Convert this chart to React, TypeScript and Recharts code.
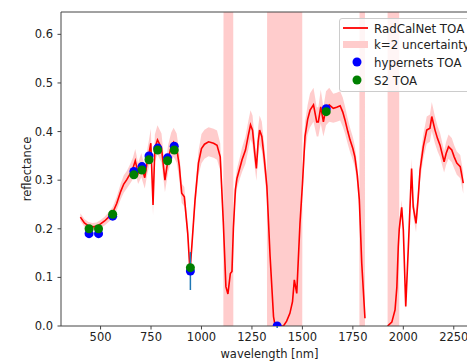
import React from 'react';
import { ComposedChart, Line, Area, Scatter, ErrorBar, XAxis, YAxis, Legend, ReferenceLine } from 'recharts';

// RadCalNet spectrum (wavelength in nm, TOA reflectance, k=2 absolute uncertainty)
// null = no data (gap between the water bands)
const wavelengths = [
  400, 420, 440, 460, 480, 500, 520, 540, 560, 580, 600, 615, 630, 645, 660, 672, 686, 702, 719, 730,
  740, 749, 760, 769, 782, 802, 819, 835, 850, 862, 877, 890, 902, 915, 932, 943, 952, 968, 985, 1000,
  1015, 1035, 1060, 1077, 1093, 1108, 1121, 1131, 1143, 1151, 1158, 1168, 1176, 1190, 1201, 1218, 1232, 1243, 1253, 1264,
  1272, 1281, 1288, 1299, 1311, 1324, 1340, 1357, 1365, 1388, 1406, 1422, 1438, 1451, 1460, 1472, 1488, 1500, 1513, 1526,
  1538, 1555, 1571, 1579, 1591, 1604, 1617, 1633, 1653, 1670, 1687, 1700, 1711, 1725, 1736, 1750, 1760, 1772, 1782, 1794,
  1810, 1860, 1922, 1943, 1959, 1968, 1975, 1980, 1992, 2000, 2012, 2025, 2041, 2049, 2063, 2074, 2083, 2099, 2116, 2132,
  2141, 2157, 2170, 2182, 2192, 2202, 2212, 2224, 2240, 2252, 2265, 2282, 2297,
];
const toa = [
  0.224, 0.212, 0.206, 0.204, 0.205, 0.21, 0.216, 0.224, 0.233, 0.252, 0.277, 0.292, 0.301, 0.312, 0.324, 0.34, 0.314, 0.331, 0.305, 0.335,
  0.355, 0.376, 0.249, 0.366, 0.383, 0.366, 0.3, 0.345, 0.368, 0.378, 0.366, 0.33, 0.273, 0.266, 0.19, 0.112, 0.163, 0.259, 0.335, 0.365,
  0.374, 0.379, 0.376, 0.372, 0.348, 0.215, 0.081, 0.066, 0.108, 0.112, 0.2, 0.28, 0.304, 0.325, 0.342, 0.362, 0.392, 0.414, 0.403, 0.355,
  0.324, 0.38, 0.403, 0.39, 0.345, 0.287, 0.143, 0.019, 0.0, 0.0, 0.0, 0.01, 0.026, 0.05, 0.095, 0.067, 0.211, 0.29, 0.39, 0.425,
  0.444, 0.455, 0.42, 0.42, 0.451, 0.42, 0.448, 0.455, 0.448, 0.45, 0.453, 0.44, 0.424, 0.4, 0.383, 0.365, 0.348, 0.31, 0.26, 0.129,
  0.016, null, 0.0, 0.008, 0.033, 0.08, 0.163, 0.2, 0.244, 0.198, 0.04, 0.163, 0.324, 0.245, 0.211, 0.266, 0.321, 0.369, 0.403, 0.407,
  0.431, 0.403, 0.385, 0.372, 0.355, 0.338, 0.355, 0.369, 0.362, 0.348, 0.335, 0.328, 0.294,
];
const unc = [
  0.008, 0.008, 0.008, 0.008, 0.008, 0.008, 0.009, 0.01, 0.012, 0.014, 0.016, 0.018, 0.018, 0.02, 0.022, 0.024, 0.022, 0.025, 0.022, 0.026,
  0.028, 0.03, 0.022, 0.028, 0.03, 0.03, 0.025, 0.028, 0.03, 0.03, 0.03, 0.028, 0.02, 0.02, 0.015, 0.01, 0.012, 0.02, 0.025, 0.03,
  0.03, 0.03, 0.03, 0.03, 0.028, 0.02, 5, 5, 5, 5, 0.02, 0.02, 0.02, 0.022, 0.025, 0.028, 0.03, 0.03, 0.03, 0.028,
  0.025, 0.03, 0.03, 0.03, 0.028, 0.025, 5, 5, 5, 5, 5, 5, 5, 5, 5, 5, 5, 0.025, 0.03, 0.03,
  0.035, 0.035, 0.03, 0.03, 0.035, 0.03, 0.035, 0.035, 0.03, 0.03, 0.03, 0.03, 0.028, 0.026, 0.025, 0.024, 0.022, 0.02, 0.02, 5,
  5, null, 5, 5, 5, 5, 5, 0.015, 0.015, 0.012, 0.008, 0.012, 0.02, 0.018, 0.018, 0.02, 0.022, 0.025, 0.028, 0.028,
  0.03, 0.028, 0.026, 0.025, 0.024, 0.022, 0.024, 0.025, 0.025, 0.024, 0.024, 0.024, 0.022,
];

// hypernets TOA
const hyperWl = [443, 490, 560, 665, 705, 740, 783, 832, 865, 945, 1375, 1618];
const hyperToa = [0.19, 0.19, 0.226, 0.318, 0.328, 0.35, 0.366, 0.346, 0.37, 0.113, 0.0, 0.447];
const hyperErr = [0.004, 0.004, 0.004, 0.005, 0.005, 0.005, 0.005, 0.005, 0.005, 0.039, 0.004, 0.006];

// Sentinel-2 TOA
const s2Wl = [443, 490, 560, 665, 705, 740, 783, 832, 865, 945, 1618];
const s2Toa = [0.2, 0.2, 0.23, 0.311, 0.321, 0.342, 0.362, 0.34, 0.362, 0.12, 0.441];

const xTicks = [500, 750, 1000, 1250, 1500, 1750, 2000, 2250];
const yTicks = [0, 0.1, 0.2, 0.3, 0.4, 0.5, 0.6];
const legendLabels = ['RadCalNet TOA', 'k=2 uncertainty', 'hypernets TOA', 'S2 TOA'];

const FONT = '"DejaVu Sans", sans-serif';
const INK = '#222';
const SPINE = '#444';
const Y_MAX = 0.646;

const spectrum = wavelengths.map((wl, i) => ({
  wl,
  toa: toa[i],
  band: toa[i] == null || unc[i] == null ? null : [toa[i] - unc[i], toa[i] + unc[i]],
}));
const hyperRows = hyperWl.map((wl, i) => ({ wl, r: hyperToa[i], e: hyperErr[i] }));
const s2Rows = s2Wl.map((wl, i) => ({ wl, r: s2Toa[i] }));

function LegendBox() {
  const rowY = [9, 25, 43, 61];
  return (
    <div
      style={{
        width: 150,
        height: 74,
        boxSizing: 'border-box',
        border: '1px solid #ccc',
        borderRadius: 3,
        background: 'rgba(255,255,255,0.8)',
      }}
    >
      <svg width={148} height={72} style={{ display: 'block' }}>
        <line x1={3} x2={28} y1={rowY[0]} y2={rowY[0]} stroke="red" strokeWidth={1.8} />
        <rect x={3} y={rowY[1] - 3} width={25} height={7} fill="#ffcccc" />
        <circle cx={17} cy={rowY[2]} r={4.5} fill="#0000ff" />
        <circle cx={17} cy={rowY[3]} r={4.5} fill="#008000" />
        {legendLabels.map((t, i) => (
          <text key={t} x={34} y={rowY[i] + 4.5} fontSize={11.8} fontFamily={FONT} fill={INK}>
            {t}
          </text>
        ))}
      </svg>
    </div>
  );
}

function YTitle(props: any) {
  const { viewBox } = props;
  const cx = viewBox.x + 31;
  const cy = viewBox.y + viewBox.height / 2;
  return (
    <text x={cx} y={cy} transform={`rotate(-90 ${cx} ${cy})`} textAnchor="middle" fontSize={11.5} fontFamily={FONT} fill={INK}>
      reflectance
    </text>
  );
}

function XTitle(props: any) {
  const { viewBox } = props;
  return (
    <text x={viewBox.x + viewBox.width / 2} y={viewBox.y + 32} textAnchor="middle" fontSize={11.5} fontFamily={FONT} fill={INK}>
      wavelength [nm]
    </text>
  );
}

const dot = (color: string) => (p: any) => <circle cx={p.cx} cy={p.cy} r={4.5} fill={color} />;

export default function App() {
  const tickStyle = { fill: INK, fontSize: 11.5, fontFamily: FONT };
  return (
    <div style={{ position: 'absolute', left: 0, top: 0, width: 467, height: 362, overflow: 'hidden', background: '#fff' }}>
      <ComposedChart width={490} height={362} data={spectrum} margin={{ top: 12, right: 12, bottom: 0, left: 0 }}>
        <XAxis
          dataKey="wl"
          type="number"
          domain={[304, 2370]}
          ticks={xTicks}
          allowDataOverflow
          height={36}
          tick={tickStyle}
          tickSize={3.5}
          tickMargin={3.5}
          stroke={SPINE}
          label={<XTitle />}
        />
        <YAxis
          type="number"
          domain={[0, Y_MAX]}
          ticks={yTicks}
          allowDataOverflow
          width={61}
          tick={tickStyle}
          tickSize={3.5}
          tickMargin={4.5}
          tickFormatter={(v: number) => v.toFixed(1)}
          stroke={SPINE}
          label={<YTitle />}
        />
        <Area
          dataKey="band"
          type="linear"
          stroke="none"
          fill="#ff0000"
          fillOpacity={0.2}
          isAnimationActive={false}
        />
        <Line dataKey="toa" type="linear" stroke="red" strokeWidth={1.6} dot={false} isAnimationActive={false} />
        <Scatter data={hyperRows} dataKey="r" shape={dot('#0000ff')} isAnimationActive={false}>
          <ErrorBar dataKey="e" direction="y" width={0} stroke="#1f77b4" strokeWidth={1.5} />
        </Scatter>
        <Scatter data={s2Rows} dataKey="r" shape={dot('#008000')} isAnimationActive={false} />
        <ReferenceLine y={Y_MAX} stroke={SPINE} strokeWidth={1} />
        <Legend
          layout="vertical"
          align="center"
          verticalAlign="middle"
          wrapperStyle={{ left: 339, top: 18, width: 150 }}
          content={() => <LegendBox />}
        />
      </ComposedChart>
    </div>
  );
}
